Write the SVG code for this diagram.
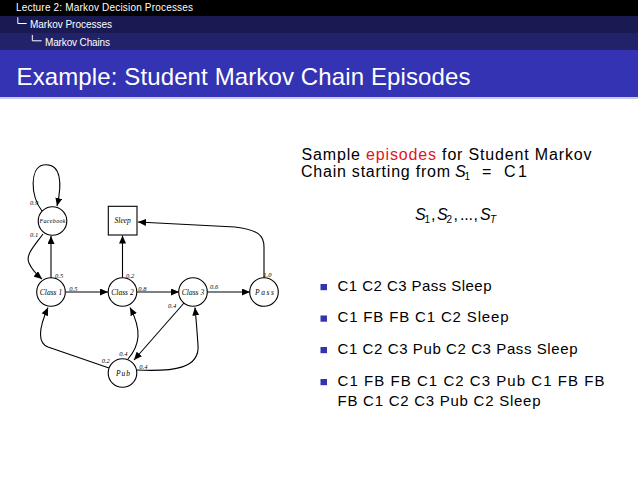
<svg xmlns="http://www.w3.org/2000/svg" width="638" height="479" viewBox="0 0 638 479">
<style>
.hdr{font-family:"Liberation Sans",Arial,sans-serif;font-size:10px;fill:#ffffff}
.ttl{font-family:"Liberation Sans",Arial,sans-serif;font-size:24px;fill:#ffffff}
.body{font-family:"Liberation Sans",Arial,sans-serif;font-size:16px;fill:#000000}
.bul{font-family:"Liberation Sans",Arial,sans-serif;font-size:15px;fill:#000000}
.mi{font-family:"Liberation Sans",Arial,sans-serif;font-style:italic}
.node{fill:#ffffff;stroke:#000000;stroke-width:1.1}
.nl{font-family:"Liberation Serif","Times New Roman",serif;font-style:italic;font-size:7.5px;fill:#000;text-anchor:middle}
.pl{font-family:"Liberation Serif","Times New Roman",serif;font-style:italic;font-size:6.5px;fill:#000}
.edge{fill:none;stroke:#000000;stroke-width:1.1;marker-end:url(#arr)}
.sq{fill:#3333b3}
</style>
<defs>
<marker id="arr" markerUnits="userSpaceOnUse" markerWidth="9" markerHeight="7" refX="8" refY="3.5" orient="auto">
<path d="M0,0 L8,3.5 L0,7 z" fill="#000"/>
</marker>
</defs>
<rect x="0" y="0" width="638" height="479" fill="#ffffff"/>
<g id="header">
<rect x="0" y="0" width="638" height="16" fill="#000000"/>
<rect x="0" y="16" width="638" height="17" fill="#1a1a52"/>
<rect x="0" y="33" width="638" height="17" fill="#22226a"/>
<rect x="0" y="50" width="638" height="47" fill="#3333b3"/>
<rect x="0" y="97" width="638" height="2" fill="#c8c8e8"/>
<text class="hdr" x="16" y="11" textLength="177">Lecture 2: Markov Decision Processes</text>
<path d="M17.8,17.3 V23.5 H26.7 M32.3,35 V40.8 H41.7" stroke="#ffffff" stroke-width="1" fill="none"/>
<text class="hdr" x="30" y="28.3" textLength="82">Markov Processes</text>
<text class="hdr" x="45" y="45.5" textLength="65">Markov Chains</text>
<text class="ttl" x="16.5" y="85" textLength="454">Example: Student Markov Chain Episodes</text>
</g>
<g id="connectors">
<path class="edge" d="M42,211 C30,195 30,168 43,165 C62,162 62,185 57,206"/>
<path class="edge" d="M43,234 C35,245 25,255 29,263 C32,270 36,274 42,279"/>
<path class="edge" d="M51,278 L51,236"/>
<path class="edge" d="M65.5,292 L108,292"/>
<path class="edge" d="M122.5,277.5 L122.5,235.5"/>
<path class="edge" d="M137,292 L179,292"/>
<path class="edge" d="M207,292 L250,292"/>
<path class="edge" d="M264,278 L264,247 C264,235 258,230 235,227 L138,222"/>
<path class="edge" d="M184,303 L134,360"/>
<path class="edge" d="M128,359 C140,345 142,330 130,307.5"/>
<path class="edge" d="M136,370 C175,372 200,368 198,345 C197,330 196,318 195,307.5"/>
<path class="edge" d="M109,368 L48,347 C38,343 38,330 48,307.5"/>
<text class="pl" x="30" y="205">0.9</text>
<text class="pl" x="30" y="237">0.1</text>
<text class="pl" x="55" y="277.5">0.5</text>
<text class="pl" x="69.3" y="291">0.5</text>
<text class="pl" x="126" y="278">0.2</text>
<text class="pl" x="138.3" y="291">0.8</text>
<text class="pl" x="210" y="289.3">0.6</text>
<text class="pl" x="263.3" y="276.7">1.0</text>
<text class="pl" x="168" y="307.7">0.4</text>
<text class="pl" x="119.3" y="356">0.4</text>
<text class="pl" x="101.7" y="362.7">0.2</text>
<text class="pl" x="139.3" y="369">0.4</text>
</g>
<g id="facebook">
<circle class="node" cx="52.5" cy="221" r="14.3"/>
<text class="nl" x="52.5" y="223" style="font-size:6px" textLength="26">Facebook</text>
</g>
<g id="sleep">
<rect class="node" x="108.3" y="206.3" width="28.7" height="28.7"/>
<text class="nl" x="122.7" y="223">Sleep</text>
</g>
<g id="class1">
<circle class="node" cx="51" cy="292" r="14.3"/>
<text class="nl" x="51" y="294.5">Class 1</text>
</g>
<g id="class2">
<circle class="node" cx="122.5" cy="292" r="14.3"/>
<text class="nl" x="122.5" y="294.5">Class 2</text>
</g>
<g id="class3">
<circle class="node" cx="193" cy="292" r="14.3"/>
<text class="nl" x="193" y="294.5">Class 3</text>
</g>
<g id="pass">
<circle class="node" cx="264" cy="292" r="14.3"/>
<text class="nl" x="264.5" y="294.5" textLength="19">Pass</text>
</g>
<g id="pub">
<circle class="node" cx="122.5" cy="373" r="14.3"/>
<text class="nl" x="123" y="375.5" textLength="14">Pub</text>
</g>
<g id="text">
<text class="body" x="301.5" y="160" textLength="290">Sample <tspan fill="#e0141e">episodes</tspan> for Student Markov</text>
<text class="body" x="301" y="177" textLength="149">Chain starting from</text>
<text class="body mi" x="455" y="177">S</text>
<text class="body" x="464.5" y="180" style="font-size:10px">1</text>
<text class="body" x="482" y="177">=</text>
<text class="body" x="504" y="177" textLength="23">C1</text>
<text class="body mi" x="415" y="220">S</text>
<text class="body" x="424.5" y="223" style="font-size:10px">1</text>
<text class="body" x="431" y="220">,</text>
<text class="body mi" x="437" y="220">S</text>
<text class="body" x="446.5" y="223" style="font-size:10px">2</text>
<text class="body" x="453.5" y="220">,</text>
<text class="body" x="460" y="220" textLength="13">...</text>
<text class="body" x="473.5" y="220">,</text>
<text class="body mi" x="480" y="220">S</text>
<text class="body mi" x="490" y="223" style="font-size:10px">T</text>
<rect class="sq" x="320.5" y="284" width="6.5" height="6.2"/>
<rect class="sq" x="320.5" y="315.5" width="6.5" height="6.2"/>
<rect class="sq" x="320.5" y="347" width="6.5" height="6.2"/>
<rect class="sq" x="320.5" y="379" width="6.5" height="6.2"/>
<text class="bul" x="337.5" y="290.5" textLength="154">C1 C2 C3 Pass Sleep</text>
<text class="bul" x="337.5" y="322" textLength="171">C1 FB FB C1 C2 Sleep</text>
<text class="bul" x="337.5" y="353.5" textLength="240">C1 C2 C3 Pub C2 C3 Pass Sleep</text>
<text class="bul" x="337.5" y="385.5" textLength="267">C1 FB FB C1 C2 C3 Pub C1 FB FB</text>
<text class="bul" x="337.5" y="406" textLength="203">FB C1 C2 C3 Pub C2 Sleep</text>
</g>
</svg>
